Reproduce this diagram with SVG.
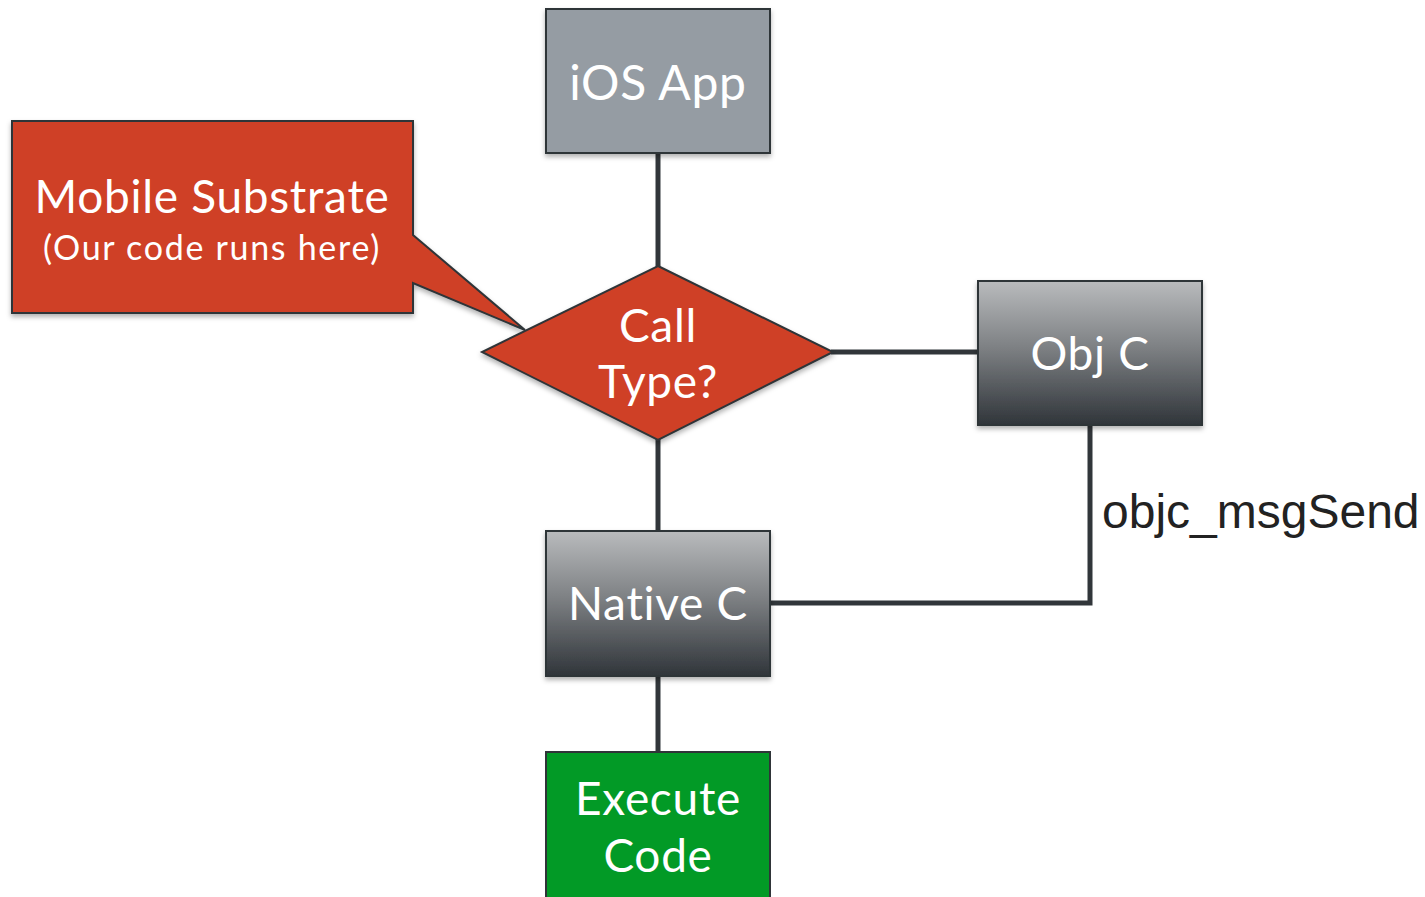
<svg xmlns="http://www.w3.org/2000/svg" width="1425" height="897" viewBox="0 0 1425 897">
<style>
.n{stroke:#2f3438;stroke-width:2}
.t{font-family:Lato,"Open Sans",sans-serif;fill:#ffffff;text-anchor:middle;letter-spacing:0.7px}
.c{fill:none;stroke:#31363a;stroke-width:5}
</style>
<defs>
<linearGradient id="g" x1="0" y1="0" x2="0" y2="1">
<stop offset="0" stop-color="#b9bbbd"/>
<stop offset="0.45" stop-color="#7f8285"/>
<stop offset="1" stop-color="#30353a"/>
</linearGradient>
<filter id="s" x="-10%" y="-10%" width="120%" height="125%">
<feDropShadow dx="0" dy="3" stdDeviation="2.5" flood-color="#000" flood-opacity="0.3"/>
</filter>
</defs>
<rect width="1425" height="897" fill="#ffffff"/>
<g id="connectors">
<line class="c" x1="658" y1="153" x2="658" y2="268"/>
<line class="c" x1="658" y1="438" x2="658" y2="531"/>
<line class="c" x1="658" y1="676" x2="658" y2="752"/>
<line class="c" x1="831" y1="352" x2="978" y2="352"/>
<polyline class="c" points="1090,425 1090,603 770,603"/>
<text x="1102" y="528" font-family="'Liberation Sans',Arial,sans-serif" font-size="48" fill="#222">objc_msgSend</text>
</g>
<g id="ios-app">
<rect class="n" x="546" y="9" width="224" height="144" fill="#959ca3" filter="url(#s)"/>
<text class="t" x="658" y="100" font-size="48">iOS App</text>
</g>
<g id="callout">
<path class="n" d="M12,121 H413 V235 L525,330 L413,283 V313 H12 Z" fill="#cf4127" filter="url(#s)"/>
<text class="t" x="212" y="213" font-size="46">Mobile Substrate</text>
<text class="t" x="212" y="260" font-size="34" style="letter-spacing:1.7px">(Our code runs here)</text>
</g>
<g id="call-type">
<polygon class="n" points="658,266 833,352 658,440 482,352" fill="#cf4127" filter="url(#s)"/>
<text class="t" x="658" y="342" font-size="46">Call</text>
<text class="t" x="658" y="398" font-size="46">Type?</text>
</g>
<g id="obj-c">
<rect class="n" x="978" y="281" width="224" height="144" fill="url(#g)" filter="url(#s)"/>
<text class="t" x="1090" y="370" font-size="46">Obj C</text>
</g>
<g id="native-c">
<rect class="n" x="546" y="531" width="224" height="145" fill="url(#g)" filter="url(#s)"/>
<text class="t" x="658" y="620" font-size="46">Native C</text>
</g>
<g id="execute-code">
<rect class="n" x="546" y="752" width="224" height="150" fill="#029a26"/>
<text class="t" x="658" y="815" font-size="46">Execute</text>
<text class="t" x="658" y="872" font-size="46">Code</text>
</g>
</svg>
